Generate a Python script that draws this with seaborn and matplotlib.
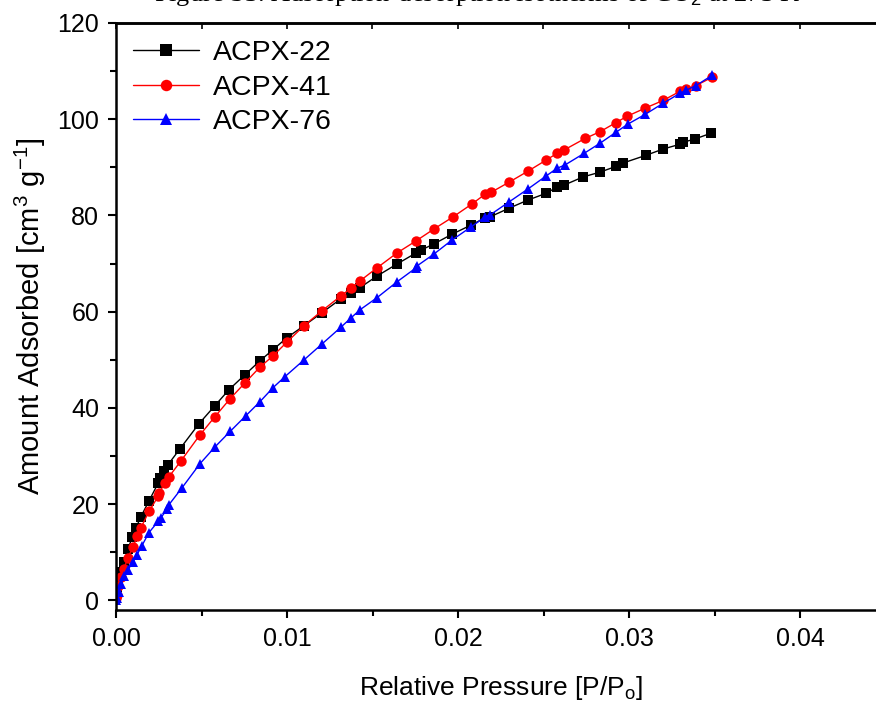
import pandas as pd
import seaborn as sns
import matplotlib
matplotlib.use('Agg')
import matplotlib.pyplot as plt
from matplotlib.ticker import MultipleLocator, FormatStrFormatter, NullFormatter

# CO2 isotherms
acpx22_p = [0.00002, 0.00006, 0.00012, 0.00029, 0.00047, 0.0007, 0.00094, 0.00117, 0.00146, 0.00193,
            0.00246, 0.00257, 0.00281, 0.00304, 0.00374, 0.00485, 0.00579, 0.00661, 0.00754, 0.00842,
            0.00918, 0.0100, 0.0110, 0.01205, 0.01316, 0.01374, 0.01427, 0.01526, 0.01643, 0.01754,
            0.01784, 0.0186, 0.01965, 0.02076, 0.02158, 0.02187, 0.02298, 0.02409, 0.02515, 0.02579,
            0.0262, 0.02731, 0.0283, 0.02924, 0.02965, 0.03099, 0.03199, 0.03298, 0.03316, 0.03386, 0.0348]
acpx22_q = [1.0, 2.7, 3.9, 5.8, 7.9, 10.6, 13.1, 15.1, 17.4, 20.7,
            24.3, 25.5, 26.8, 28.2, 31.5, 36.7, 40.5, 43.8, 46.9, 49.8,
            52.1, 54.6, 57.1, 59.8, 62.7, 63.9, 65.0, 67.4, 69.9, 72.2,
            72.8, 74.1, 76.1, 78.0, 79.5, 79.7, 81.5, 83.2, 84.6, 85.9,
            86.3, 88.0, 89.0, 90.2, 90.9, 92.5, 93.8, 94.8, 95.2, 95.9, 97.1]

acpx41_p = [0.00002, 0.00006, 0.00012, 0.00029, 0.00047, 0.0007, 0.00099, 0.00123, 0.00146, 0.00193,
            0.00246, 0.00251, 0.00287, 0.0031, 0.0038, 0.00491, 0.00579, 0.00667, 0.00754, 0.00842,
            0.00918, 0.0100, 0.0110, 0.01205, 0.01316, 0.01374, 0.01427, 0.01526, 0.01643, 0.01754,
            0.0186, 0.01971, 0.02082, 0.02158, 0.02193, 0.02298, 0.02409, 0.02515, 0.02579, 0.0262,
            0.02743, 0.0283, 0.02924, 0.02988, 0.03094, 0.03199, 0.03298, 0.03333, 0.03392, 0.03485]
acpx41_q = [0.5, 1.2, 2.9, 4.8, 6.6, 8.9, 11.0, 13.3, 15.1, 18.5,
            21.6, 22.4, 24.3, 25.7, 29.0, 34.4, 38.2, 41.9, 45.2, 48.5,
            50.8, 53.7, 57.1, 60.2, 63.3, 64.9, 66.4, 69.1, 72.2, 74.7,
            77.2, 79.7, 82.4, 84.4, 84.8, 86.9, 89.2, 91.5, 92.9, 93.6,
            96.0, 97.4, 99.3, 100.6, 102.3, 103.9, 105.8, 106.2, 107.0, 108.7]

acpx76_p = [0.00002, 0.00006, 0.00018, 0.00029, 0.00047, 0.0007, 0.00099, 0.00123, 0.00152, 0.00193,
            0.00246, 0.00263, 0.00298, 0.0031, 0.00386, 0.00491, 0.00579, 0.00667, 0.0076, 0.00842,
            0.00918, 0.00988, 0.0110, 0.01205, 0.01316, 0.01374, 0.01427, 0.01526, 0.01643, 0.01754,
            0.0176, 0.0186, 0.01965, 0.02076, 0.02158, 0.02187, 0.02298, 0.02409, 0.02515, 0.02579,
            0.02626, 0.02737, 0.0283, 0.02924, 0.02994, 0.03094, 0.03199, 0.03298, 0.03333, 0.03392, 0.03485]
acpx76_q = [0.0, 0.4, 1.7, 3.3, 5.0, 6.4, 7.9, 9.5, 11.4, 14.1,
            16.4, 17.2, 18.9, 19.9, 23.4, 28.4, 31.9, 35.1, 38.4, 41.3,
            44.2, 46.5, 50.0, 53.3, 56.8, 58.7, 60.4, 62.9, 66.2, 69.1,
            69.5, 72.0, 74.9, 77.6, 79.7, 80.1, 82.8, 85.5, 88.2, 89.8,
            90.5, 92.9, 95.0, 97.3, 99.0, 101.0, 103.3, 105.4, 106.0, 107.0, 109.1]

samples = ['ACPX-22', 'ACPX-41', 'ACPX-76']
colors = {'ACPX-22': 'black', 'ACPX-41': 'red', 'ACPX-76': 'blue'}
markers = {'ACPX-22': 's', 'ACPX-41': 'o', 'ACPX-76': '^'}

frames = []
for name, p, q in zip(samples, [acpx22_p, acpx41_p, acpx76_p], [acpx22_q, acpx41_q, acpx76_q]):
    frames.append(pd.DataFrame({'p': p, 'q': q, 'sample': name}))
data = pd.concat(frames, ignore_index=True)

sns.set_style('ticks')
plt.rcParams['font.family'] = ['Liberation Sans', 'DejaVu Sans']
plt.rcParams['mathtext.fontset'] = 'custom'
plt.rcParams['mathtext.rm'] = 'Liberation Sans'
plt.rcParams['axes.edgecolor'] = 'black'
plt.rcParams['xtick.color'] = 'black'
plt.rcParams['ytick.color'] = 'black'
plt.rcParams['axes.labelcolor'] = 'black'
plt.rcParams['text.color'] = 'black'

fig = plt.figure(figsize=(8.76, 7.04), dpi=100)
ax = fig.add_axes([116 / 876, 1 - 610 / 704, (885.5 - 116) / 876, (610 - 23) / 704])

sns.lineplot(data=data, x='p', y='q', hue='sample', style='sample', palette=colors,
             markers=markers, dashes=False, sort=False, estimator=None,
             markersize=7.5, markeredgewidth=0, linewidth=1.0, ax=ax)

ax.set_xlim(0, 0.045)
ax.set_ylim(-2, 120)
ax.xaxis.set_major_locator(MultipleLocator(0.01))
ax.xaxis.set_minor_locator(MultipleLocator(0.005))
ax.yaxis.set_major_locator(MultipleLocator(20))
ax.yaxis.set_minor_locator(MultipleLocator(10))
ax.xaxis.set_major_formatter(FormatStrFormatter('%.2f'))

for side in ['left', 'bottom', 'top', 'right']:
    ax.spines[side].set_linewidth(1.8)
ax.tick_params(which='major', direction='out', length=6, width=1.5, labelsize=18, pad=6)
ax.tick_params(which='minor', direction='out', length=4, width=1.5)

# small inward ticks along the top frame
top = ax.secondary_xaxis('top')
top.xaxis.set_major_locator(MultipleLocator(0.005))
top.xaxis.set_major_formatter(NullFormatter())
top.tick_params(direction='in', length=4, width=1.2)
top.spines['top'].set_linewidth(1.8)

ax.set_xlabel('Relative Pressure [P/P$_\\mathregular{o}$]', fontsize=19, labelpad=17)
ax.set_ylabel('Amount Adsorbed [cm$^\\mathregular{3}$ g$^\\mathregular{-1}$]', fontsize=21, labelpad=7)

leg = ax.legend(loc='upper left', frameon=False, fontsize=20.5, handlelength=2.3, markerscale=1.1,
                handletextpad=0.5, labelspacing=0.3, borderaxespad=0.2, bbox_to_anchor=(0.0, 1.0))

# caption of the figure, mostly cut off by the top edge as in the source
fig.text(0.545, 1 - 1 / 704, 'Figure S3. Adsorption-desorption isotherms of CO$_2$ at 273 K',
         ha='center', va='baseline', fontsize=19, family='Liberation Serif')

fig.savefig('out.png', dpi=100)
